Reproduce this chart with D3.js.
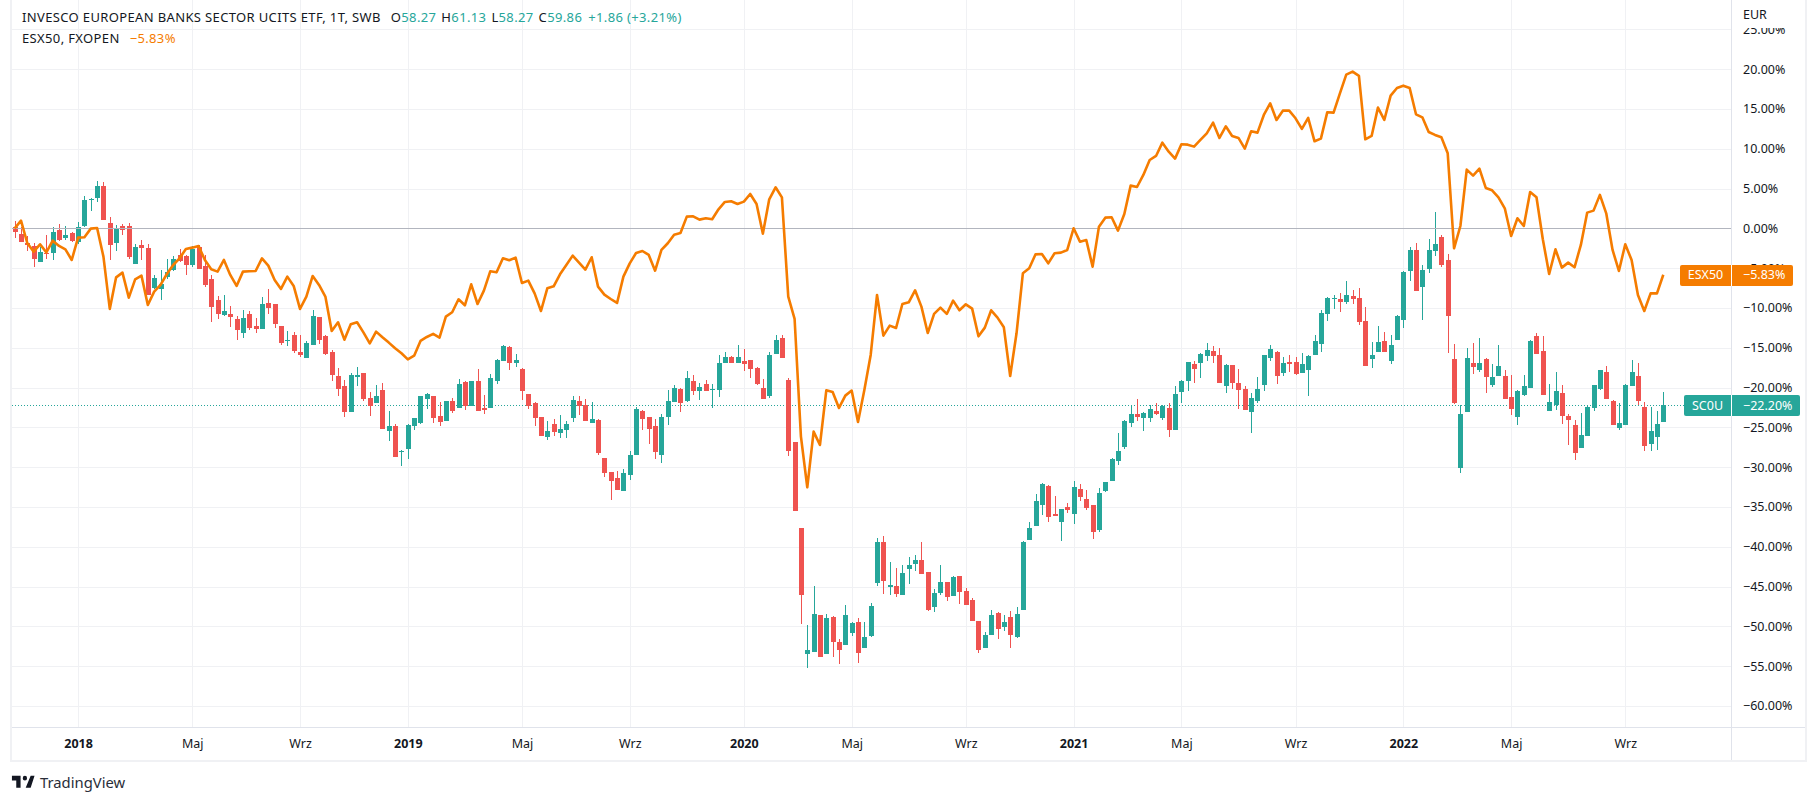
<!DOCTYPE html>
<html>
<head>
<meta charset="utf-8">
<script src="https://cdn.jsdelivr.net/npm/d3@7"></script>
<style>
  html, body { margin: 0; padding: 0; background: #fff; }
  svg { display: block; }
  text { font-family: "Noto Sans", sans-serif; }
</style>
</head>
<body>
<div id="chart"></div>
<script>
var width = 1816;
var height = 802;

// weekly candles of SC0U, in percent against the first bar
var highs = [
  0.92,0.13,-0.96,-1.88,-2.35,-0.84,0.13,0.54,0.29,-0.46,
  0.80,4.06,3.77,5.95,5.82,1.42,0.42,0.54,0.67,-1.97,
  -1.47,-1.97,-5.86,-5.23,-3.85,-3.48,-2.60,-3.35,-2.22,-2.09,
  -3.35,-5.90,-8.50,-8.38,-9.76,-11.01,-10.26,-10.39,-11.26,-8.63,
  -7.62,-9.51,-12.27,-12.90,-13.02,-13.40,-14.15,-10.26,-11.14,-13.40,
  -15.28,-17.55,-19.05,-18.17,-17.42,-18.17,-20.56,-19.68,-19.43,-22.95,
  -24.58,-27.85,-24.58,-23.83,-21.06,-20.69,-21.06,-21.82,-21.69,-21.32,
  -18.93,-19.18,-19.18,-17.67,-20.94,-18.30,-16.42,-14.66,-14.78,-15.79,
  -17.55,-20.81,-21.82,-23.70,-24.20,-23.95,-23.45,-24.20,-21.06,-21.06,
  -21.44,-21.82,-23.95,-28.85,-30.61,-30.49,-30.23,-27.97,-22.45,-22.82,
  -23.70,-23.95,-23.32,-20.31,-19.68,-20.06,-17.92,-18.43,-19.43,-19.05,
  -19.56,-15.91,-15.54,-16.04,-14.66,-15.16,-16.54,-17.42,-18.93,-15.54,
  -13.40,-13.40,-18.80,-26.84,-37.65,-49.83,-44.93,-48.58,-48.45,-48.70,
  -51.59,-47.32,-49.46,-48.95,-49.46,-47.07,-38.90,-38.65,-41.92,-42.67,
  -42.30,-41.29,-41.04,-39.41,-43.17,-45.31,-42.30,-44.43,-43.68,-43.68,
  -45.18,-46.44,-49.33,-50.71,-47.95,-48.20,-48.58,-48.07,-47.57,-39.28,
  -36.89,-33.38,-32.00,-32.25,-33.63,-35.26,-34.51,-31.75,-32.12,-32.88,
  -34.76,-32.63,-31.87,-28.85,-25.71,-24.08,-22.19,-21.44,-23.07,-22.19,
  -21.94,-22.19,-21.94,-19.81,-19.05,-16.79,-16.67,-15.66,-14.41,-14.78,
  -15.03,-17.04,-17.17,-17.67,-19.81,-20.69,-18.68,-15.91,-14.66,-15.41,
  -16.16,-15.91,-16.16,-15.66,-15.91,-13.40,-10.26,-8.63,-8.38,-8.12,
  -6.62,-7.75,-7.50,-9.88,-14.28,-12.27,-13.02,-13.40,-10.89,-5.36,
  -2.35,-1.84,-4.61,-1.34,2.05,-0.84,-3.22,-14.53,-22.19,-15.03,
  -14.41,-13.78,-16.29,-17.04,-14.66,-17.80,-18.43,-20.31,-18.43,-14.03,
  -13.15,-13.53,-19.56,-18.05,-19.68,-23.32,-24.08,-23.20,-22.19,-19.68,
  -17.80,-17.29,-21.57,-21.94,-19.56,-16.54,-16.92,-21.82,-22.45,-22.95,
  -20.56
];
var lows = [
  -1.17,-1.72,-2.85,-4.86,-4.23,-3.85,-3.98,-1.55,-1.47,-1.68,
  -1.97,0.17,2.18,3.31,1.05,-3.98,-2.85,-0.84,-3.85,-4.48,
  -3.98,-8.38,-7.62,-9.00,-6.37,-5.36,-4.23,-5.86,-4.86,-5.11,
  -7.37,-11.77,-11.39,-11.01,-12.40,-14.03,-13.78,-12.77,-13.15,-12.65,
  -10.76,-12.52,-14.66,-14.78,-15.66,-16.16,-16.29,-14.66,-14.53,-15.91,
  -19.18,-21.06,-23.70,-23.07,-19.81,-21.69,-23.58,-21.94,-25.21,-26.72,
  -28.73,-29.86,-28.98,-25.34,-24.58,-22.70,-24.46,-24.83,-24.20,-23.20,
  -22.57,-22.82,-22.32,-22.95,-23.32,-22.57,-19.56,-16.67,-17.80,-17.42,
  -21.57,-22.70,-24.83,-26.09,-26.59,-26.09,-26.34,-26.34,-24.33,-23.45,
  -24.20,-24.46,-28.48,-31.24,-34.13,-32.87,-33.00,-31.62,-28.48,-25.34,
  -27.09,-28.98,-29.48,-24.71,-21.82,-23.07,-21.82,-20.94,-21.57,-20.44,
  -22.57,-21.19,-16.92,-16.92,-16.92,-17.92,-18.80,-19.68,-21.44,-21.32,
  -15.79,-16.29,-28.60,-35.51,-49.71,-55.23,-53.23,-53.85,-53.48,-53.85,
  -54.73,-52.35,-51.21,-54.61,-52.72,-51.34,-44.93,-45.94,-46.06,-46.31,
  -46.06,-44.68,-43.05,-43.43,-48.07,-48.20,-46.06,-46.82,-46.19,-47.19,
  -47.32,-49.33,-53.35,-52.72,-51.09,-51.59,-50.59,-52.72,-51.46,-47.95,
  -39.15,-37.40,-36.01,-36.89,-36.14,-39.28,-35.77,-37.15,-34.26,-35.39,
  -39.03,-38.16,-33.13,-31.74,-29.73,-27.72,-24.96,-24.20,-25.46,-24.33,
  -23.45,-24.08,-26.21,-25.34,-21.94,-20.44,-19.43,-18.80,-16.67,-16.92,
  -19.43,-20.69,-20.18,-22.70,-22.82,-25.71,-21.94,-20.44,-16.67,-19.56,
  -18.55,-18.05,-18.43,-18.17,-21.06,-15.91,-15.54,-11.64,-10.13,-10.51,
  -9.51,-9.51,-12.14,-17.29,-17.55,-15.54,-15.54,-17.04,-14.03,-12.52,
  -6.62,-7.87,-11.52,-5.61,-3.48,-4.86,-15.66,-22.07,-30.74,-23.07,
  -18.30,-18.05,-20.69,-19.93,-18.55,-21.44,-23.45,-24.71,-21.06,-20.06,
  -15.79,-20.94,-22.95,-22.82,-24.58,-27.22,-29.10,-27.60,-26.09,-22.95,
  -20.31,-21.44,-24.71,-25.34,-24.71,-19.81,-22.19,-27.97,-27.97,-27.85,
  -24.33
];
var opens = [
  0.13,-0.71,-1.84,-2.26,-4.23,-3.10,-3.10,-0.21,-1.21,-0.59,
  -1.72,0.29,3.52,3.81,5.32,0.67,-1.84,0.29,0.29,-4.48,
  -2.09,-2.47,-7.50,-7.62,-6.11,-5.23,-3.35,-3.48,-4.61,-2.35,
  -4.73,-6.37,-9.00,-10.89,-10.76,-11.39,-13.15,-10.76,-12.27,-12.65,
  -9.38,-9.51,-12.27,-14.20,-13.40,-15.54,-16.29,-14.66,-11.14,-13.53,
  -15.54,-18.55,-19.81,-23.07,-18.68,-18.17,-21.31,-21.94,-20.31,-25.46,
  -24.83,-28.10,-27.72,-24.83,-24.46,-21.44,-21.06,-23.58,-24.20,-21.69,
  -22.57,-19.30,-22.32,-19.18,-22.57,-22.57,-19.18,-16.67,-14.91,-16.92,
  -17.67,-20.81,-21.94,-23.70,-26.21,-24.58,-25.71,-25.34,-23.83,-21.69,
  -22.19,-24.46,-24.08,-28.85,-30.61,-31.37,-33.00,-30.99,-28.48,-22.95,
  -23.70,-24.83,-28.48,-23.70,-21.82,-20.18,-21.69,-19.18,-20.44,-19.56,
  -20.31,-20.31,-16.92,-16.16,-16.92,-16.67,-16.54,-17.55,-20.06,-21.06,
  -15.79,-13.78,-19.05,-26.84,-37.65,-53.48,-53.23,-48.58,-53.48,-48.83,
  -51.97,-52.35,-50.84,-49.46,-52.72,-51.21,-44.56,-39.41,-45.06,-44.93,
  -46.06,-42.80,-42.17,-41.67,-43.17,-47.57,-45.81,-44.43,-46.19,-43.68,
  -45.56,-46.69,-49.33,-52.72,-51.09,-48.33,-50.08,-48.83,-51.34,-47.95,
  -39.15,-37.40,-34.76,-32.37,-35.89,-36.89,-35.01,-35.89,-32.75,-34.01,
  -34.76,-37.90,-33.00,-31.74,-29.23,-27.47,-24.46,-23.32,-23.83,-23.83,
  -22.95,-23.83,-22.57,-25.34,-20.56,-19.18,-17.04,-16.92,-16.04,-15.41,
  -15.91,-19.81,-17.17,-19.43,-20.18,-23.07,-21.69,-19.68,-16.29,-15.54,
  -18.17,-16.79,-16.79,-18.17,-17.80,-15.91,-14.53,-10.76,-8.88,-8.88,
  -9.25,-8.50,-8.75,-11.64,-16.42,-15.54,-14.15,-16.67,-14.03,-11.52,
  -5.36,-2.72,-7.37,-5.11,-2.85,-1.09,-3.98,-16.42,-30.11,-23.07,
  -16.92,-17.80,-16.42,-19.68,-18.55,-18.55,-21.19,-23.70,-20.94,-20.06,
  -13.53,-15.41,-22.95,-22.19,-20.69,-23.58,-24.71,-27.60,-26.09,-22.57,
  -20.18,-18.05,-21.69,-25.08,-24.71,-19.81,-18.55,-22.45,-27.09,-26.21,
  -24.33
];
var closes = [
  -0.42,-1.72,-2.09,-3.85,-2.97,-3.22,-0.46,-1.47,-0.84,-1.59,
  0.17,3.56,3.69,5.32,1.05,-2.09,-0.08,-0.21,-3.60,-2.35,
  -2.47,-8.38,-6.28,-6.99,-5.49,-3.85,-4.15,-4.61,-2.60,-5.11,
  -7.12,-9.88,-10.76,-10.39,-11.14,-12.77,-11.26,-12.52,-12.65,-9.51,
  -10.01,-12.02,-14.41,-14.03,-15.41,-15.91,-14.41,-11.01,-14.03,-15.79,
  -18.43,-20.18,-23.07,-18.43,-18.43,-21.44,-22.32,-21.06,-25.21,-24.83,
  -28.73,-27.97,-24.71,-23.83,-21.06,-20.81,-23.83,-24.33,-21.69,-22.95,
  -19.56,-22.32,-19.18,-22.95,-22.82,-18.80,-16.54,-14.78,-16.92,-16.54,
  -20.44,-22.32,-23.83,-26.09,-25.46,-25.59,-25.21,-24.58,-21.57,-22.32,
  -24.20,-23.95,-28.22,-30.74,-31.74,-32.87,-30.74,-28.48,-22.70,-23.95,
  -25.21,-28.10,-23.70,-21.69,-20.06,-21.94,-18.80,-20.44,-19.93,-20.44,
  -20.18,-16.92,-16.16,-16.92,-16.16,-17.04,-17.67,-19.56,-21.44,-15.91,
  -14.03,-16.29,-27.97,-35.51,-46.07,-52.97,-48.45,-53.85,-48.96,-51.97,
  -52.97,-48.58,-49.58,-53.35,-51.34,-47.44,-39.41,-44.30,-44.81,-45.94,
  -43.30,-42.30,-41.67,-43.43,-47.95,-45.81,-44.43,-46.31,-43.80,-45.69,
  -47.32,-49.33,-52.97,-51.09,-48.58,-50.34,-49.46,-51.09,-48.45,-39.41,
  -37.65,-34.25,-32.12,-36.26,-36.14,-35.26,-35.39,-32.50,-33.76,-35.14,
  -38.16,-33.25,-31.87,-28.98,-27.97,-24.20,-23.32,-23.70,-23.20,-22.70,
  -23.32,-22.32,-25.34,-20.81,-19.18,-16.79,-17.67,-15.79,-15.28,-16.04,
  -19.43,-17.17,-19.43,-20.31,-22.82,-21.32,-20.18,-15.91,-15.16,-18.55,
  -16.92,-17.04,-18.30,-17.04,-16.04,-14.15,-10.64,-8.75,-8.75,-9.25,
  -8.38,-8.88,-11.77,-17.29,-15.91,-14.28,-15.54,-14.66,-11.01,-5.49,
  -2.72,-7.87,-5.23,-2.72,-1.97,-4.61,-11.01,-21.94,-23.32,-16.29,
  -17.42,-16.92,-18.68,-18.68,-17.29,-21.44,-22.70,-20.44,-19.81,-14.15,
  -15.79,-20.94,-21.82,-20.44,-23.58,-24.08,-28.22,-25.96,-22.45,-19.68,
  -17.80,-21.44,-24.71,-24.46,-19.68,-18.05,-21.69,-27.35,-25.46,-24.58,
  -22.20
];

// ESX50 comparison line, same weeks
var esx50 = [
  0.00,0.96,-1.88,-2.93,-2.01,-3.02,-1.55,-2.22,-2.64,-3.98,
  -1.17,-1.13,-0.04,0.04,-3.56,-10.13,-6.16,-5.57,-8.71,-6.41,
  -5.95,-9.63,-7.96,-7.12,-5.74,-4.61,-3.77,-2.60,-2.43,-2.22,
  -3.98,-5.15,-5.44,-3.98,-5.86,-7.24,-5.44,-5.40,-5.36,-3.77,
  -4.69,-6.49,-7.62,-6.07,-7.24,-10.13,-8.58,-5.99,-7.12,-8.58,
  -12.90,-11.81,-13.99,-12.06,-11.81,-13.07,-14.45,-12.98,-13.69,-14.36,
  -15.08,-15.70,-16.46,-16.00,-14.15,-13.65,-13.27,-13.74,-11.10,-10.55,
  -8.92,-9.67,-7.04,-9.51,-7.83,-5.40,-5.53,-3.77,-4.02,-3.69,
  -6.87,-6.57,-8.17,-10.39,-7.54,-7.29,-5.78,-4.61,-3.43,-4.31,
  -5.19,-3.64,-7.33,-8.33,-8.88,-9.38,-6.07,-4.40,-3.10,-2.85,
  -3.35,-5.32,-2.72,-1.88,-0.80,-0.59,1.47,1.51,1.09,1.26,
  1.13,2.39,3.31,3.39,3.06,3.35,4.31,3.06,-0.67,3.64,
  5.15,3.89,-8.58,-11.39,-26.17,-32.54,-25.54,-27.22,-20.35,-20.56,
  -22.57,-21.02,-20.39,-24.33,-20.31,-15.91,-8.38,-13.48,-12.23,-12.52,
  -9.51,-9.30,-7.79,-9.84,-13.15,-10.76,-9.97,-10.76,-9.09,-10.30,
  -9.55,-10.09,-13.57,-12.48,-10.30,-11.22,-12.44,-18.55,-13.19,-5.65,
  -5.03,-3.27,-3.22,-4.40,-3.14,-3.06,-2.72,0.00,-1.68,-1.47,
  -4.82,0.21,1.34,1.38,-0.29,1.80,5.36,5.19,6.70,8.58,
  9.09,10.76,9.63,8.75,10.55,10.51,10.26,11.10,11.93,13.27,
  11.35,12.81,11.60,11.35,10.01,12.19,12.02,14.24,15.70,13.61,
  14.78,14.78,13.82,12.48,13.86,10.93,11.26,14.57,14.53,16.96,
  19.30,19.68,19.14,11.18,11.60,15.16,13.61,16.67,17.63,17.92,
  17.63,14.32,13.94,12.10,11.73,11.43,9.42,-2.51,0.29,7.37,
  6.62,7.50,5.07,4.77,3.89,2.51,-0.96,1.26,0.29,4.55,
  3.90,-1.38,-5.74,-2.64,-4.94,-4.31,-4.90,-2.09,1.97,2.22,
  4.20,1.88,-2.72,-5.36,-2.01,-3.98,-8.38,-10.39,-8.17,-8.17,
  -5.83
];

var yTicks = [25, 20, 15, 10, 5, 0, -5, -10, -15, -20, -25, -30, -35, -40, -45, -50, -55, -60];
var timeIndex = [10, 28, 45, 62, 80, 97, 115, 132, 150, 167, 184, 202, 219, 236, 254];
var timeLabels = ["2018", "Maj", "Wrz", "2019", "Maj", "Wrz", "2020", "Maj", "Wrz", "2021", "Maj", "Wrz", "2022", "Maj", "Wrz"];

var legendOhlc = [["O", "58.27"], ["H", "61.13"], ["L", "58.27"], ["C", "59.86"]];

var upColor = "#26a69a";
var downColor = "#ef5350";
var lineColor = "#f57c00";
var gridColor = "#f0f1f4";
var borderColor = "#e0e3eb";
var textColor = "#131722";

var plotLeft = 12;
var axisX = 1731;
var axisBottom = 727;
var frameRight = 1805;
var frameBottom = 760;

var xScale = d3.scaleLinear().domain([0, closes.length - 1]).range([14.67, 1663.3]);
var yScale = d3.scaleLinear().domain([0, -60]).range([228.3, 705.9]);

function pctFormat(v) {
  return (v < 0 ? "\u2212" : "") + Math.abs(v).toFixed(2) + "%";
}

var svg = d3.select("#chart").append("svg")
  .attr("width", width)
  .attr("height", height);

svg.append("rect").attr("width", width).attr("height", height).attr("fill", "#fff");

// frame
var frame = svg.append("g").attr("shape-rendering", "crispEdges");
frame.append("rect").attr("x", 10).attr("y", 0).attr("width", 2).attr("height", frameBottom + 2).attr("fill", gridColor);
frame.append("rect").attr("x", 10).attr("y", frameBottom).attr("width", frameRight - 8).attr("height", 2).attr("fill", gridColor);
frame.append("rect").attr("x", frameRight).attr("y", 0).attr("width", 2).attr("height", frameBottom + 2).attr("fill", gridColor);

// grid
var grid = svg.append("g").attr("shape-rendering", "crispEdges");
grid.selectAll(".vgrid").data(timeIndex).enter().append("line")
  .attr("x1", function (d) { return Math.round(xScale(d)) + 0.5; })
  .attr("x2", function (d) { return Math.round(xScale(d)) + 0.5; })
  .attr("y1", 0)
  .attr("y2", axisBottom)
  .attr("stroke", gridColor);
grid.selectAll(".hgrid").data(yTicks).enter().append("line")
  .attr("x1", plotLeft)
  .attr("x2", axisX)
  .attr("y1", function (d) { return Math.round(yScale(d)) + 0.5; })
  .attr("y2", function (d) { return Math.round(yScale(d)) + 0.5; })
  .attr("stroke", gridColor);

// last price dotted line
svg.append("line")
  .attr("x1", plotLeft)
  .attr("x2", axisX)
  .attr("y1", Math.round(yScale(closes[closes.length - 1])) + 0.5)
  .attr("y2", Math.round(yScale(closes[closes.length - 1])) + 0.5)
  .attr("stroke", upColor)
  .attr("stroke-dasharray", "1,2");

// candles
var candles = svg.append("g").attr("shape-rendering", "crispEdges");
var idx = d3.range(closes.length);

function candleColor(i) {
  return closes[i] >= opens[i] ? upColor : downColor;
}

candles.selectAll(".wick").data(idx).enter().append("line")
  .attr("x1", function (i) { return Math.round(xScale(i)) + 0.5; })
  .attr("x2", function (i) { return Math.round(xScale(i)) + 0.5; })
  .attr("y1", function (i) { return yScale(highs[i]); })
  .attr("y2", function (i) { return yScale(lows[i]); })
  .attr("stroke", candleColor);

candles.selectAll(".body").data(idx).enter().append("rect")
  .attr("x", function (i) { return Math.round(xScale(i)) - 2; })
  .attr("width", 5)
  .attr("y", function (i) { return yScale(Math.max(opens[i], closes[i])); })
  .attr("height", function (i) { return Math.max(1, yScale(Math.min(opens[i], closes[i])) - yScale(Math.max(opens[i], closes[i]))); })
  .attr("fill", candleColor);

// baseline at 0%
svg.append("line")
  .attr("x1", plotLeft)
  .attr("x2", axisX)
  .attr("y1", Math.round(yScale(0)) + 0.5)
  .attr("y2", Math.round(yScale(0)) + 0.5)
  .attr("stroke", "#b2b5be")
  .attr("shape-rendering", "crispEdges");

// ESX50 line
var esxLine = d3.line()
  .x(function (d, i) { return xScale(i); })
  .y(function (d) { return yScale(d); });

svg.append("path")
  .datum(esx50)
  .attr("fill", "none")
  .attr("stroke", lineColor)
  .attr("stroke-width", 2.6)
  .attr("stroke-linejoin", "round")
  .attr("d", esxLine);

// axis lines
frame = svg.append("g").attr("shape-rendering", "crispEdges");
frame.append("line").attr("x1", plotLeft).attr("x2", frameRight).attr("y1", axisBottom + 0.5).attr("y2", axisBottom + 0.5).attr("stroke", borderColor);
frame.append("line").attr("x1", axisX + 0.5).attr("x2", axisX + 0.5).attr("y1", 0).attr("y2", frameBottom).attr("stroke", borderColor);

// price axis, the top label is cut by the currency cell
svg.append("clipPath").attr("id", "axisClip").append("rect")
  .attr("x", 1).attr("y", 28).attr("width", 73).attr("height", axisBottom - 28);

var yAxis = d3.axisRight(yScale)
  .tickValues(yTicks)
  .tickSize(0)
  .tickPadding(12)
  .tickFormat(pctFormat);

svg.append("g")
  .attr("transform", "translate(" + axisX + ",0)")
  .attr("clip-path", "url(#axisClip)")
  .call(yAxis)
  .call(function (g) { g.select(".domain").remove(); })
  .selectAll("text")
  .attr("font-size", 12.5)
  .attr("fill", textColor);

svg.append("text").attr("x", 1743).attr("y", 19).attr("font-size", 12.5).attr("fill", textColor).text("EUR");

// time axis
var xAxis = d3.axisBottom(xScale)
  .tickValues(timeIndex)
  .tickSize(0)
  .tickPadding(12)
  .tickFormat(function (d, i) { return timeLabels[i]; });

svg.append("g")
  .attr("transform", "translate(0," + axisBottom + ")")
  .call(xAxis)
  .call(function (g) { g.select(".domain").remove(); })
  .selectAll("text")
  .attr("font-size", 12.5)
  .attr("fill", textColor)
  .attr("font-weight", function (d, i) { return timeLabels[i].length == 4 ? "bold" : "normal"; });

// legend
var legend1 = svg.append("text").attr("x", 22).attr("y", 22).attr("font-size", 13).attr("letter-spacing", 0.36).attr("fill", textColor);
legend1.append("tspan").text("INVESCO EUROPEAN BANKS SECTOR UCITS ETF, 1T, SWB");
legendOhlc.forEach(function (p, i) {
  legend1.append("tspan").attr("dx", i == 0 ? 10 : 5).text(p[0]);
  legend1.append("tspan").attr("fill", upColor).text(p[1]);
});
legend1.append("tspan").attr("dx", 6).attr("fill", upColor).text("+1.86 (+3.21%)");

var legend2 = svg.append("text").attr("x", 22).attr("y", 43).attr("font-size", 13).attr("letter-spacing", 0.36).attr("fill", textColor);
legend2.append("tspan").text("ESX50, FXOPEN");
legend2.append("tspan").attr("dx", 10).attr("fill", lineColor).text(pctFormat(esx50[esx50.length - 1]));

// price tags
function priceTag(name, value, color, left, right) {
  var g = svg.append("g");
  var yc = yScale(value);
  g.append("rect")
    .attr("x", left).attr("y", Math.round(yc) - 10)
    .attr("width", right - left).attr("height", 21)
    .attr("rx", 2).attr("fill", color);
  g.append("line")
    .attr("x1", axisX + 0.5).attr("x2", axisX + 0.5)
    .attr("y1", Math.round(yc) - 10).attr("y2", Math.round(yc) + 11)
    .attr("stroke", "#fff").attr("shape-rendering", "crispEdges");
  g.append("text").attr("x", (left + axisX) / 2).attr("y", yc + 4.5)
    .attr("text-anchor", "middle").attr("font-size", 12.5).attr("fill", "#fff").text(name);
  g.append("text").attr("x", 1743).attr("y", yc + 4.5)
    .attr("font-size", 12.5).attr("fill", "#fff").text(pctFormat(value));
}
priceTag("ESX50", esx50[esx50.length - 1], lineColor, 1680, 1793);
priceTag("SC0U", closes[closes.length - 1], upColor, 1684, 1800);

// TradingView mark
svg.append("path")
  .attr("transform", "translate(10.5,771) scale(0.72,0.8)")
  .attr("fill", textColor)
  .attr("d", "M14 6H2v6h6v9h6V6zm14 15h-6.9L28 6h5.4l-5.4 15zM20 12a3 3 0 100-6 3 3 0 000 6z");
svg.append("text")
  .attr("x", 40).attr("y", 788).attr("font-size", 14.8)
  .attr("font-family", "Lato").attr("fill", "#2a2e39").text("TradingView");
</script>
</body>
</html>
